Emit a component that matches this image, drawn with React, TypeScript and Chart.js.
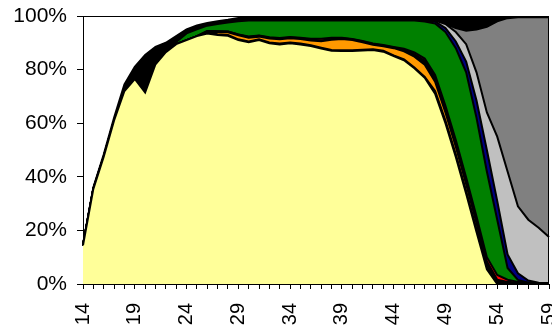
import React, { useEffect, useRef } from 'react';
import { Chart, registerables } from 'chart.js';

Chart.register(...registerables);

const categories = ['14','15','16','17','18','19','20','21','22','23','24','25','26','27','28','29','30','31','32','33','34','35','36','37','38','39','40','41','42','43','44','45','46','47','48','49','50','51','52','53','54','55','56','57','58','59'];

const yellowVals = [14.4, 35.5, 47.5, 61, 72, 76.5, 71.5, 82, 86.5, 89.5, 91, 92.5, 93.5, 92.9, 92.6, 91, 90.2, 91, 89.8, 89.4, 89.8, 89.4, 88.8, 87.9, 87, 86.9, 86.9, 87.1, 87.3, 86.7, 85, 83.5, 80.5, 77, 71, 60, 47.4, 33.7, 19.4, 5.5, 0, 0, 0, 0, 0, 0];
const black1Vals = [0,0,0,0,0,0,0,0,0,0,0,0, 0.3,0.3,0.3,0.3,0.3,0.3,0.3,0.3,0.3,0.3,0.3,0.3,0.3,0.3,0.3,0.3,0.3,0.3,0.3,0.3,0.3,0.3, 1,1,1,1,1,1, 0.8,0.5,0.3,0.3,0.3,0.2];
const orangeVals = [0,0,0,0,0,0,0,0,0,0,0,0, 0.3,0.8,1.0,1.5,1.4,1.0,1.5,1.6,1.6,1.7,1.8,2.4,3.8,4.2,3.8,2.8,1.7,1.7,2.7,3.0,4.0,4.5,3.5,3.0,2.8,2.5,2.3,1.0,0.3,0,0,0,0,0];
const black2Vals = [0,0,0,0,0,0,0,0,0,0,0,0, 0.3,0.3,0.3,0.3,0.3,0.3,0.3,0.3,0.3,0.3,0.3,0.3,0.3,0.3,0.3,0.3,0.3,0.3,0.3, 0.6,1.0,1.5, 1.5,1.5,1.5,1.5,1.5, 1.0,0.5,0.3,0.2,0,0,0];
const redVals = [0,0,0,0,0,0,0,0,0,0,0,0,0,0,0,0, 0.15,0.15,0.15,0.15,0.15,0.15, 0.3,0.6,0.5, 0.15,0.15,0.15,0.15,0.15,0.15, 0.4,0.6,0.8, 1,1,1,1,1, 1.5,1.8,0.8,0.3,0.1,0,0];
const greenVals = [0,0,0,0,0,0,0,0,0, 0.8,2.5,2.5,2.0,2.7,3.4,4.9,6,5.6,6.3,6.6,6.2,6.5,6.8,6.8,6.4,6.5,6.9,7.7,8.6,9.2,9.9,10.5,11.9,13.8,19.2,27.5,34.3,39.3,36.8,32,20.6,4.4,0.7,0.1,0,0];
const navyVals = [0,0,0,0,0,0,0,0,0,0,0,0,0,0,0,0,0,0,0,0,0,0,0,0,0,0,0,0,0,0,0,0,0, 0.3,0.8,1.5,2.5,4,6.5,8,7,5,2.5,0.8,0.2,0];
const silverVals = [0,0,0,0,0,0,0,0,0,0,0,0,0,0,0,0,0,0,0,0,0,0,0,0,0,0,0,0,0,0,0,0,0,0, 0.3,1.5,3.5,6.5,10.5,14,24,31,25,22.7,20.5,17.3];
const grayVals = [0,0,0,0,0,0,0,0,0,0,0,0,0,0,0,0,0,0,0,0,0,0,0,0,0,0,0,0,0,0,0,0,0,0,0,0, 1.5,5,16,32,43,57.2,70.5,75.5,78.5,82];
const blackTopVals = [0.5,0.5,0.8,1,2.5,4.5,14,6.5,3.5,2.2,1.5,1.5,1,1,1,1.3, 1.5,1.5,1.5,1.5,1.5,1.5,1.5,1.5,1.5,1.5,1.5,1.5,1.5,1.5,1.5,1.5,1.5, 1.8,1.7,3,4.5,5.5,5,4,2,0.8,0.5,0.5,0.5,0.5];

const yTicks = [0, 20, 40, 60, 80, 100];

const FONT = '"Liberation Sans", Arial, sans-serif';

const framePlugin = {
  id: 'frame',
  afterDatasetsDraw(chart: any) {
    const { ctx, chartArea: a } = chart;
    ctx.save();
    ctx.strokeStyle = '#000';
    ctx.lineWidth = 1;
    ctx.beginPath();
    ctx.moveTo(a.left, Math.round(a.top) + 0.5);
    ctx.lineTo(Math.round(a.right) - 0.5, Math.round(a.top) + 0.5);
    ctx.lineTo(Math.round(a.right) - 0.5, a.bottom);
    ctx.stroke();
    ctx.restore();
  },
};

export default function App() {
  const ref = useRef<HTMLCanvasElement>(null);
  useEffect(() => {
    const layers = [
      { label: 'A', data: yellowVals, color: '#FFFF99' },
      { label: 'B', data: black1Vals, color: '#000000' },
      { label: 'C', data: orangeVals, color: '#FF9900' },
      { label: 'D', data: black2Vals, color: '#000000' },
      { label: 'E', data: redVals, color: '#FF0000' },
      { label: 'F', data: greenVals, color: '#008000' },
      { label: 'G', data: navyVals, color: '#000080' },
      { label: 'H', data: silverVals, color: '#C0C0C0' },
      { label: 'I', data: grayVals, color: '#808080' },
      { label: 'J', data: blackTopVals, color: '#000000' },
    ];
    const chart = new Chart(ref.current!, {
      type: 'line',
      data: {
        labels: categories,
        datasets: layers.map((l, i) => ({
          label: l.label,
          data: l.data,
          backgroundColor: l.color,
          borderColor: '#000000',
          borderWidth: 2,
          pointRadius: 0,
          tension: 0,
          fill: i === 0 ? 'origin' : '-1',
        })),
      },
      options: {
        responsive: false,
        animation: false,
        devicePixelRatio: 1,
        layout: { padding: { left: 0, right: 3, top: 16, bottom: 0 } },
        plugins: { legend: { display: false }, tooltip: { enabled: false } },
        scales: {
          x: {
            type: 'category',
            offset: false,
            grid: { drawOnChartArea: false, drawTicks: true, tickLength: 5, color: '#000' },
            border: { color: '#000', width: 1 },
            ticks: {
              autoSkip: false,
              minRotation: 90,
              maxRotation: 90,
              padding: 14,
              color: '#000',
              font: { family: FONT, size: 20 },
              callback: function (this: any, value: any, index: number) {
                return index % 5 === 0 ? categories[index] : '';
              },
            },
            afterFit(scale: any) {
              scale.height = 41;
              scale.paddingLeft = 0;
              scale.paddingRight = 0;
            },
          },
          y: {
            stacked: true,
            min: 0,
            max: 100,
            grid: { drawOnChartArea: false, drawTicks: true, tickLength: 6, color: '#000' },
            border: { color: '#000', width: 1 },
            afterBuildTicks(scale: any) {
              scale.ticks = yTicks.map((v) => ({ value: v }));
            },
            ticks: {
              padding: 10,
              color: '#000',
              font: { family: FONT, size: 21 },
              callback: (v: any) => v + '%',
            },
            afterFit(scale: any) {
              scale.width = 83;
              scale.paddingTop = 0;
              scale.paddingBottom = 0;
            },
          },
        },
      },
      plugins: [framePlugin],
    });
    return () => chart.destroy();
  }, []);
  return (
    <div style={{ position: 'fixed', left: 0, top: 0, width: 552, height: 325, background: '#fff' }}>
      <canvas ref={ref} width={552} height={325} style={{ width: 552, height: 325, display: 'block' }} />
    </div>
  );
}
